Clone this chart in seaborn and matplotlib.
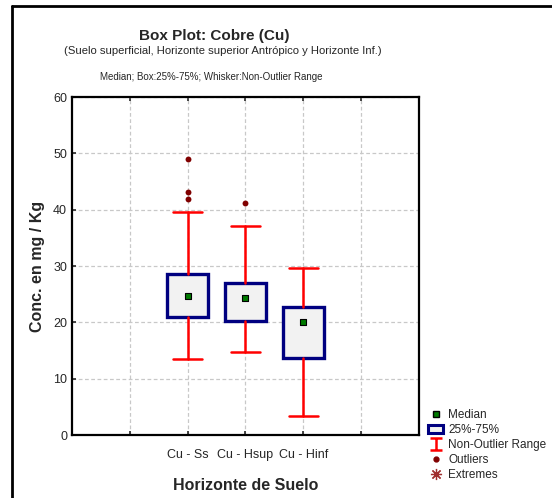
import matplotlib
matplotlib.use("Agg")
import matplotlib.pyplot as plt
import matplotlib.lines as mlines
import matplotlib.patches as mpatches
from matplotlib.path import Path
import seaborn as sns

# valores
categorias = ["Cu - Ss", "Cu - Hsup", "Cu - Hinf"]
posiciones = [2, 3, 4]
medianas = [24.7, 24.3, 20.0]
q1 = [21.0, 20.2, 13.7]
q3 = [28.6, 26.9, 22.8]
bigote_inf = [13.5, 14.7, 3.4]
bigote_sup = [39.6, 37.1, 29.7]
outliers = [[49.0, 43.1, 41.9], [41.1], []]

sns.set_style("white")
plt.rcParams["font.family"] = ["Liberation Sans Narrow", "Liberation Sans", "DejaVu Sans"]

fig = plt.figure(figsize=(5.52, 4.98), dpi=100)
ax = fig.add_axes([0.1304, 0.1265, 0.6286, 0.6787])

stats = []
for i, cat in enumerate(categorias):
    stats.append({"label": cat, "med": medianas[i], "q1": q1[i], "q3": q3[i],
                  "whislo": bigote_inf[i], "whishi": bigote_sup[i], "fliers": []})

ax.bxp(stats, positions=posiciones, widths=0.7, patch_artist=True,
       showfliers=False, manage_ticks=False,
       boxprops=dict(facecolor="#f2f2f2", edgecolor="#000080", linewidth=2.4),
       whiskerprops=dict(color="red", linewidth=1.8),
       capprops=dict(color="red", linewidth=1.8),
       capwidths=0.5, medianprops=dict(linewidth=0))

# medianas como cuadrito verde
sns.scatterplot(x=posiciones, y=medianas, ax=ax, marker="s", s=15,
                color="#007a00", edgecolor="black", linewidth=0.8, zorder=5)

ox, oy = [], []
for p, vals in zip(posiciones, outliers):
    for v in vals:
        ox.append(p)
        oy.append(v)
sns.scatterplot(x=ox, y=oy, ax=ax, color="#800000", s=18, linewidth=0, zorder=5)

ax.set_xlim(0, 6)
ax.set_ylim(0, 60)
ax.set_xticks([1, 2, 3, 4, 5])
ax.set_xticklabels(["", "Cu - Ss", "Cu - Hsup", "Cu - Hinf", ""])
ax.set_yticks(range(0, 61, 10))
ax.tick_params(direction="in", length=3, width=1.2, labelsize=9, top=True, bottom=True, left=True)
ax.tick_params(axis="x", pad=10)
ax.grid(True, color="#c8c8c8", linestyle=(0, (3, 2)), linewidth=0.9)
ax.set_axisbelow(True)
for s in ax.spines.values():
    s.set_color("black")
    s.set_linewidth(1.6)

ax.set_xlabel("Horizonte de Suelo", fontsize=11.5, fontweight="bold",
              family=["Liberation Sans", "DejaVu Sans"], labelpad=12)
ax.set_ylabel("Conc. en mg / Kg", fontsize=11.5, fontweight="bold",
              family=["Liberation Sans", "DejaVu Sans"], labelpad=6)

fig.text(214 / 552, 1 - 36 / 498, "Box Plot: Cobre (Cu)", ha="center", va="center",
         fontsize=11, fontweight="bold", family=["Liberation Sans", "DejaVu Sans"])
fig.text(223 / 552, 1 - 51 / 498,
         "(Suelo superficial, Horizonte superior Antrópico y Horizonte Inf.)",
         ha="center", va="center", fontsize=8.1)
fig.text(211 / 552, 1 - 77 / 498, "Median; Box:25%-75%; Whisker:Non-Outlier Range",
         ha="center", va="center", fontsize=7)

# marco exterior (solo izquierda y arriba)
fig.add_artist(mlines.Line2D([12 / 552, 12 / 552], [0, 1 - 6 / 498], color="black",
                             linewidth=2, transform=fig.transFigure))
fig.add_artist(mlines.Line2D([12 / 552, 1], [1 - 6 / 498, 1 - 6 / 498], color="black",
                             linewidth=2, transform=fig.transFigure))

# simbolo "I" para el rango sin outliers
viga = Path([(-1, 1), (1, 1), (0, 1), (0, -1), (-1, -1), (1, -1)],
            [Path.MOVETO, Path.LINETO, Path.MOVETO, Path.LINETO, Path.MOVETO, Path.LINETO])

h_med = mlines.Line2D([], [], linestyle="none", marker="s", markersize=4,
                      markerfacecolor="#007a00", markeredgecolor="black")
h_box = mpatches.Patch(facecolor="#f2f2f2", edgecolor="#000080", linewidth=2.2)
h_rng = mlines.Line2D([], [], linestyle="none", marker=viga, markersize=9,
                      markerfacecolor="none", markeredgecolor="red", markeredgewidth=1.8)
h_out = mlines.Line2D([], [], linestyle="none", marker="o", markersize=3.5,
                      markerfacecolor="#800000", markeredgecolor="#800000")
h_ext = mlines.Line2D([], [], linestyle="none", marker=(8, 2, 0), markersize=8,
                      color="#a03030", markeredgewidth=0.9)
fig.legend([h_med, h_box, h_rng, h_out, h_ext],
           ["Median", "25%-75%", "Non-Outlier Range", "Outliers", "Extremes"],
           loc="upper left", bbox_to_anchor=(428 / 552, 1 - 409 / 498),
           frameon=False, fontsize=8.5, handlelength=1.3, handletextpad=0.4,
           labelspacing=0.25, borderpad=0, borderaxespad=0)

fig.savefig("out.png", dpi=100)
